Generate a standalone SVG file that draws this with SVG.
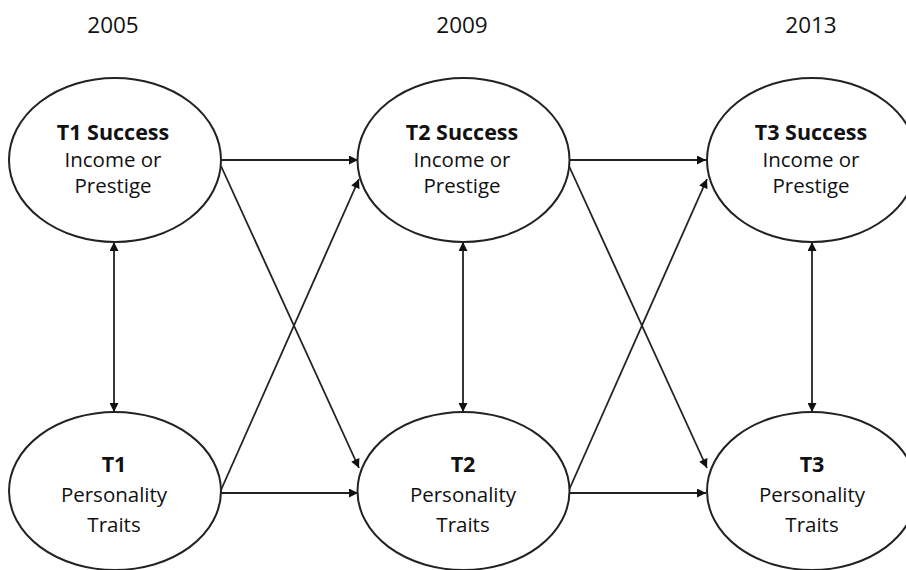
<svg xmlns="http://www.w3.org/2000/svg" width="906" height="570" viewBox="0 0 906 570">
<style>
.node ellipse{fill:#fff;stroke:#222;stroke-width:2}
text{font-family:"Open Sans","Noto Sans",sans-serif;fill:#111;text-anchor:middle}
.b{font-weight:bold;font-size:21.5px}
.r{font-size:20.5px}
.yr{font-size:22.5px}
.edges line{stroke:#222;stroke-width:1.8}
</style>
<defs>
<marker id="ah" viewBox="0 0 10 10" refX="10" refY="5" markerWidth="10" markerHeight="9" markerUnits="userSpaceOnUse" orient="auto-start-reverse">
<path d="M0,0 L10,5 L0,10 z" fill="#111"/>
</marker>
</defs>
<rect width="906" height="570" fill="#fff"/>
<g id="years">
<text class="yr" x="113" y="33">2005</text>
<text class="yr" x="462" y="33">2009</text>
<text class="yr" x="811" y="33">2013</text>
</g>
<g class="edges" id="connectors">
<line x1="221" y1="160" x2="358" y2="160" marker-end="url(#ah)"/>
<line x1="221" y1="493" x2="358" y2="493" marker-end="url(#ah)"/>
<line x1="221" y1="166" x2="359" y2="468" marker-end="url(#ah)"/>
<line x1="221" y1="490" x2="359" y2="179" marker-end="url(#ah)"/>
<line x1="569" y1="160" x2="706" y2="160" marker-end="url(#ah)"/>
<line x1="569" y1="493" x2="706" y2="493" marker-end="url(#ah)"/>
<line x1="569" y1="166" x2="707" y2="468" marker-end="url(#ah)"/>
<line x1="569" y1="490" x2="707" y2="179" marker-end="url(#ah)"/>
<line x1="114" y1="242" x2="114" y2="412" marker-start="url(#ah)" marker-end="url(#ah)"/>
<line x1="463" y1="242" x2="463" y2="412" marker-start="url(#ah)" marker-end="url(#ah)"/>
<line x1="812" y1="242" x2="812" y2="412" marker-start="url(#ah)" marker-end="url(#ah)"/>
</g>
<g class="node" id="t1success">
<ellipse cx="115" cy="160" rx="106" ry="82"/>
<text class="b" x="113" y="140">T1 Success</text>
<text class="r" x="113" y="167">Income or</text>
<text class="r" x="113" y="193">Prestige</text>
</g>
<g class="node" id="t2success">
<ellipse cx="463.5" cy="160" rx="106" ry="82"/>
<text class="b" x="462" y="140">T2 Success</text>
<text class="r" x="462" y="167">Income or</text>
<text class="r" x="462" y="193">Prestige</text>
</g>
<g class="node" id="t3success">
<ellipse cx="812" cy="160" rx="105" ry="82"/>
<text class="b" x="811" y="140">T3 Success</text>
<text class="r" x="811" y="167">Income or</text>
<text class="r" x="811" y="193">Prestige</text>
</g>
<g class="node" id="t1traits">
<ellipse cx="115" cy="491" rx="106" ry="79"/>
<text class="b" x="114" y="472">T1</text>
<text class="r" x="114" y="502">Personality</text>
<text class="r" x="114" y="532">Traits</text>
</g>
<g class="node" id="t2traits">
<ellipse cx="463.5" cy="491" rx="106" ry="79"/>
<text class="b" x="463" y="472">T2</text>
<text class="r" x="463" y="502">Personality</text>
<text class="r" x="463" y="532">Traits</text>
</g>
<g class="node" id="t3traits">
<ellipse cx="812" cy="491" rx="105" ry="79"/>
<text class="b" x="812" y="472">T3</text>
<text class="r" x="812" y="502">Personality</text>
<text class="r" x="812" y="532">Traits</text>
</g>
</svg>
